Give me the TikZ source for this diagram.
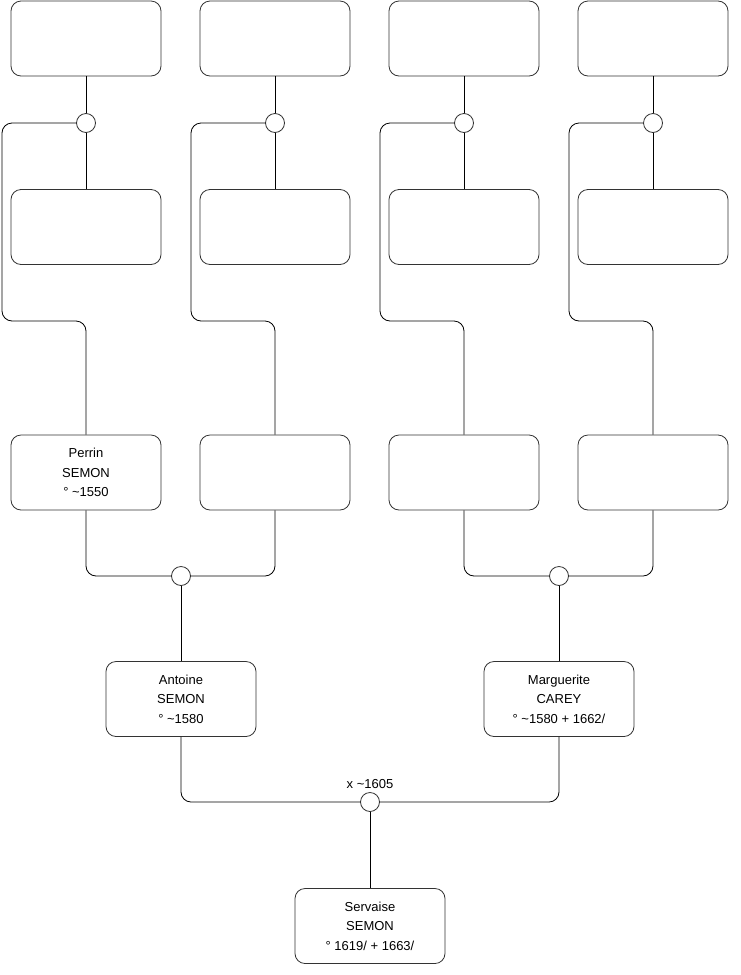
\documentclass[tikz,border=0pt]{standalone}
\usepackage{fontspec}
\setmainfont{Liberation Sans}
\begin{document}
\begin{tikzpicture}[x=1pt,y=-1pt,
  person/.style={draw=black!80,line width=.8pt,rounded corners=10pt,minimum width=150pt,minimum height=75pt,inner sep=0pt,align=center,font=\fontsize{13}{19.5}\selectfont},
  union/.style={draw=black!80,line width=.8pt,circle,fill=white,minimum size=19pt,inner sep=0pt},
  link/.style={black,line width=.8pt,rounded corners=10pt}]
  \useasboundingbox (0,0) rectangle (740,975);

  % Great-grandparents and their unions
  \foreach \i/\x/\l in {1/86/2,2/275/191,3/464/380,4/653/569} {
    \node[person] (f\i) at (\x,38.5) {};
    \node[person] (m\i) at (\x,227) {};
    \node[union] (u\i) at (\x,123) {};
  }

  % Grandparents
  \node[person] (g1) at (86,472.5) {Perrin\\SEMON\\° \textasciitilde1550};
  \node[person] (g2) at (275,472.5) {};
  \node[person] (g3) at (464,472.5) {};
  \node[person] (g4) at (653,472.5) {};

  \foreach \i/\x/\l in {1/86/2,2/275/191,3/464/380,4/653/569} {
    \draw[link] (f\i) -- (u\i);
    \draw[link] (u\i) -- (m\i);
    \draw[link] (u\i.west) -- (\l,123) -- (\l,321) -- (\x,321) -- (g\i.north);
  }

  % Parents
  \node[union] (u5) at (181,576) {};
  \node[union] (u6) at (559,576) {};
  \node[person] (p1) at (181,699) {Antoine\\SEMON\\° \textasciitilde1580};
  \node[person] (p2) at (559,699) {Marguerite\\CAREY\\° \textasciitilde1580 + 1662/};

  \draw[link] (g1.south) -- (86,576) -- (u5.west);
  \draw[link] (g2.south) -- (275,576) -- (u5.east);
  \draw[link] (g3.south) -- (464,576) -- (u6.west);
  \draw[link] (g4.south) -- (653,576) -- (u6.east);
  \draw[link] (u5) -- (p1);
  \draw[link] (u6) -- (p2);

  % Child
  \node[union,label={[font=\fontsize{13}{15}\selectfont]above:x \textasciitilde1605}] (u7) at (370,802) {};
  \node[person] (c1) at (370,926) {Servaise\\SEMON\\° 1619/ + 1663/};

  \draw[link] (p1.south) -- (181,802) -- (u7.west);
  \draw[link] (p2.south) -- (559,802) -- (u7.east);
  \draw[link] (u7) -- (c1);
\end{tikzpicture}
\end{document}
